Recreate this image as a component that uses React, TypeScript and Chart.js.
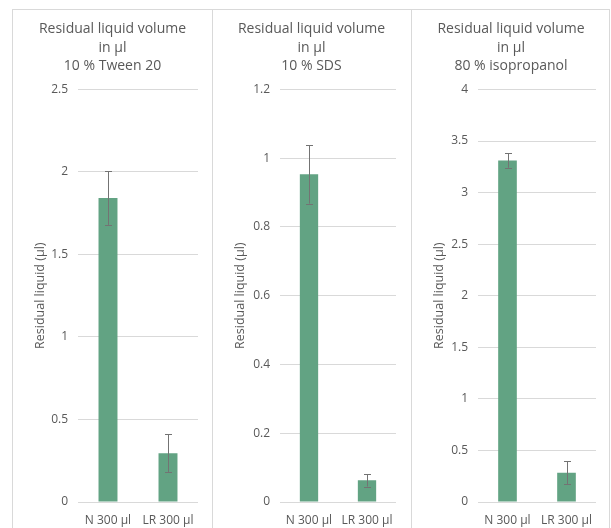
import React, { useEffect, useRef } from "react";
import { Chart, registerables } from "chart.js";

Chart.register(...registerables);

// ---- data ----
const categories = ["N 300 µl", "LR 300 µl"];
const yAxisTitle = "Residual liquid (µl)";

const tweenTitle = ["Residual liquid volume", "in µl", "10 % Tween 20"];
const tweenValues = [1.842, 0.295];
const tweenErrors = [0.163, 0.115];
const tweenMax = 2.5;
const tweenStep = 0.5;

const sdsTitle = ["Residual liquid volume", "in µl", "10 % SDS"];
const sdsValues = [0.953, 0.063];
const sdsErrors = [0.085, 0.018];
const sdsMax = 1.2;
const sdsStep = 0.2;

const isoTitle = ["Residual liquid volume", "in µl", "80 % isopropanol"];
const isoValues = [3.31, 0.284];
const isoErrors = [0.07, 0.11];
const isoMax = 4;
const isoStep = 0.5;

// ---- styling / layout ----
const FONT = "'Open Sans', sans-serif";
const TEXT = "#595959";
const GRID = "#d9d9d9";
const BAR = "#62a383";
const ERR = "#737373";

type PanelDef = {
  title: string[];
  values: number[];
  errors: number[];
  max: number;
  step: number;
  lb: number;
  rb: number;
  plotLeft: number;
  plotRight: number;
};

const panels: PanelDef[] = [
  { title: tweenTitle, values: tweenValues, errors: tweenErrors, max: tweenMax, step: tweenStep, lb: 12, rb: 212, plotLeft: 78, plotRight: 198 },
  { title: sdsTitle, values: sdsValues, errors: sdsErrors, max: sdsMax, step: sdsStep, lb: 212, rb: 411, plotLeft: 280, plotRight: 396 },
  { title: isoTitle, values: isoValues, errors: isoErrors, max: isoMax, step: isoStep, lb: 411, rb: 609, plotLeft: 478, plotRight: 596 },
];

const PANEL_TOP = 9;
const PANEL_H = 530;
const CANVAS_H = PANEL_H - 2;
const PAD_LEFT = 14;
const PAD_BOTTOM = 11;
const X_AXIS_H = 25;

function Panel({ def }: { def: PanelDef }) {
  const ref = useRef<HTMLCanvasElement | null>(null);
  const width = def.rb - def.lb - 1;
  const x0 = def.lb + 1;

  useEffect(() => {
    if (!ref.current) return;
    const errors = def.errors;
    const errorBars = {
      id: "errorBars",
      afterDatasetsDraw(chart: any) {
        const ctx = chart.ctx;
        const meta = chart.getDatasetMeta(0);
        const yScale = chart.scales.y;
        const data = chart.data.datasets[0].data as number[];
        ctx.save();
        ctx.strokeStyle = ERR;
        ctx.lineWidth = 1;
        meta.data.forEach((bar: any, i: number) => {
          const v = data[i];
          const e = errors[i];
          const x = Math.round(bar.x) + 0.5;
          const yt = yScale.getPixelForValue(v + e);
          const yb = yScale.getPixelForValue(v - e);
          ctx.beginPath();
          ctx.moveTo(x, yt);
          ctx.lineTo(x, yb);
          ctx.moveTo(x - 3.5, Math.round(yt) + 0.5);
          ctx.lineTo(x + 3.5, Math.round(yt) + 0.5);
          ctx.moveTo(x - 3.5, Math.round(yb) + 0.5);
          ctx.lineTo(x + 3.5, Math.round(yb) + 0.5);
          ctx.stroke();
        });
        ctx.restore();
      },
    };

    const chart = new Chart(ref.current, {
      type: "bar",
      data: {
        labels: categories,
        datasets: [
          {
            data: def.values,
            backgroundColor: BAR,
            borderWidth: 0,
            barPercentage: 0.316,
            categoryPercentage: 1,
          },
        ],
      },
      options: {
        responsive: false,
        animation: false,
        devicePixelRatio: 1,
        layout: {
          padding: {
            left: PAD_LEFT,
            right: def.rb - def.plotRight,
            top: 0,
            bottom: PAD_BOTTOM,
          },
        },
        plugins: {
          legend: { display: false },
          tooltip: { enabled: false },
          title: {
            display: true,
            text: def.title,
            color: TEXT,
            font: { family: FONT, size: 14, weight: "normal", lineHeight: 1.32 },
            padding: { top: 10, bottom: 14 },
          },
        },
        scales: {
          x: {
            grid: { display: false, drawTicks: false },
            border: { display: false },
            ticks: { color: TEXT, font: { family: FONT, size: 12 }, padding: 11 },
            afterFit: (s: any) => {
              s.height = X_AXIS_H;
            },
          },
          y: {
            min: 0,
            max: def.max,
            ticks: {
              stepSize: def.step,
              color: TEXT,
              font: { family: FONT, size: 12 },
              padding: 10,
              callback: (v: any) => String(Number(Number(v).toFixed(3))),
            },
            grid: { color: GRID, drawTicks: false, lineWidth: 1 },
            border: { display: false },
            title: {
              display: true,
              text: yAxisTitle,
              color: TEXT,
              font: { family: FONT, size: 12.5 },
              padding: { top: 6, bottom: 0 },
            },
            afterFit: (s: any) => {
              s.width = def.plotLeft - x0 - PAD_LEFT;
            },
          },
        },
      } as any,
      plugins: [errorBars],
    });
    return () => chart.destroy();
  }, []);

  return (
    <div
      style={{
        position: "absolute",
        left: def.lb,
        top: PANEL_TOP,
        width: def.rb - def.lb + 1,
        height: PANEL_H,
        boxSizing: "border-box",
        border: `1px solid ${GRID}`,
        background: "#fff",
      }}
    >
      <canvas ref={ref} width={width} height={CANVAS_H} style={{ display: "block", width, height: CANVAS_H }} />
    </div>
  );
}

export default function App() {
  return (
    <div
      style={{
        position: "absolute",
        left: 0,
        top: 0,
        width: 611,
        height: 528,
        overflow: "hidden",
        background: "#fff",
      }}
    >
      {panels.map((p, i) => (
        <Panel key={i} def={p} />
      ))}
    </div>
  );
}
